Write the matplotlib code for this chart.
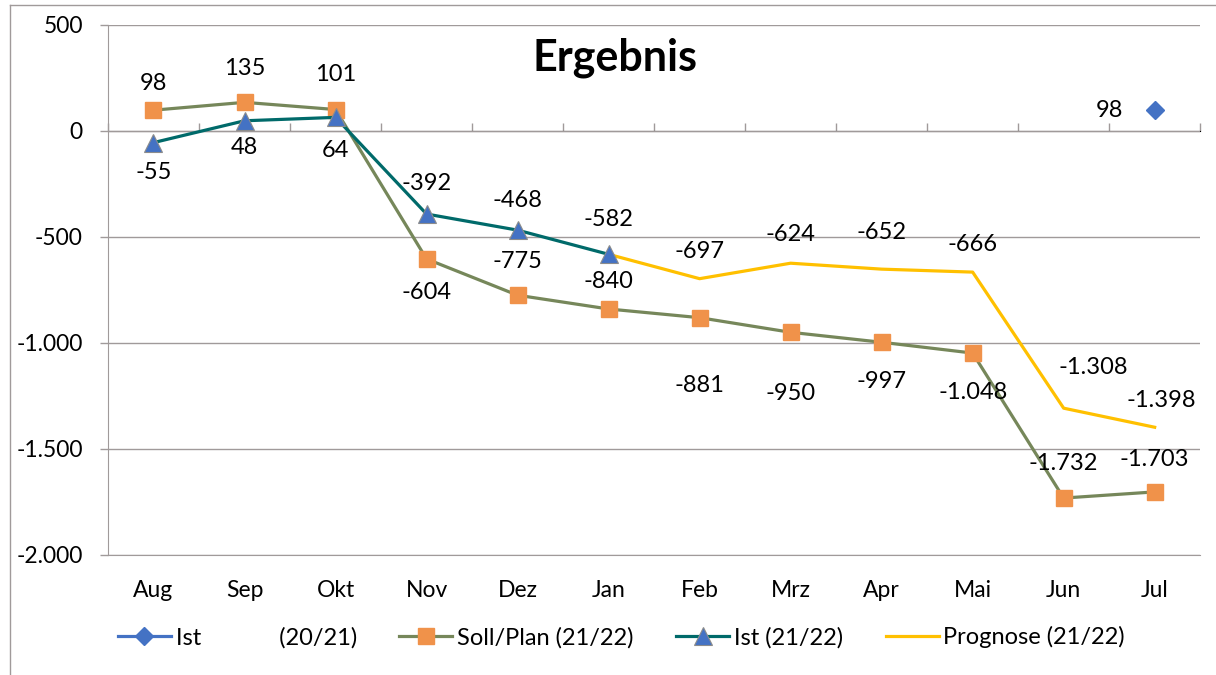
import matplotlib.pyplot as plt
import numpy as np
from matplotlib.lines import Line2D
from matplotlib.ticker import FuncFormatter

plt.rcParams['font.family'] = ['Lato', 'DejaVu Sans']

# Daten
monate = ['Aug', 'Sep', 'Okt', 'Nov', 'Dez', 'Jan', 'Feb', 'Mrz', 'Apr', 'Mai', 'Jun', 'Jul']
ist_2021 = [None] * 11 + [98]
soll_plan = [98, 135, 101, -604, -775, -840, -881, -950, -997, -1048, -1732, -1703]
ist_2122 = [-55, 48, 64, -392, -468, -582]
prognose = [None] * 5 + [-582, -697, -624, -652, -666, -1308, -1398]

# Versatz der Datenbeschriftung in Pixel (dy > 0 = oben)
soll_dy = [27, 34, 35, -34, 34, 27, -68, -61, -39, -39, 35, 32]
ist_dy = [-30, -27, -33, 31, 30, 35]
prog_dy = [27, 29, 37, 28, 41, 27]
prog_dx = [0, 0, 0, 0, 30, 7]


def de_fmt(v, pos=None):
    return f"{v:,.0f}".replace(",", ".")


fig = plt.figure(figsize=(12.16, 6.75), dpi=100)
ax = fig.add_axes([0.0888, 0.178, 0.8982, 0.785])

x = np.arange(len(monate))
x_prog = [i for i, v in enumerate(prognose) if v is not None]
y_prog = [v for v in prognose if v is not None]

ax.plot(x, soll_plan, color='#76875a', lw=2.3, marker='s', ms=11.5,
        mfc='#f0924a', mec='#f0924a', zorder=3, label='Soll/Plan (21/22)')
ax.plot(x[:len(ist_2122)], ist_2122, color='#006a6a', lw=2.3, marker='^', ms=13,
        mfc='#4472c4', mec='#8c8c8c', mew=0.8, zorder=4, label='Ist (21/22)')
ax.plot(x_prog, y_prog, color='#ffc000', lw=2.3, zorder=2, label='Prognose (21/22)')
ax.plot([11], [ist_2021[11]], color='#4472c4', lw=2.3, marker='D', ms=9,
        mfc='#4472c4', mec='#4472c4', zorder=5, label='Ist' + ' ' * 13 + '(20/21)')

fs = 17
px = 0.72
for i, v in enumerate(soll_plan):
    ax.annotate(de_fmt(v), (i, v), xytext=(0, soll_dy[i] * px), textcoords='offset points',
                ha='center', va='center', fontsize=fs)
for i, v in enumerate(ist_2122):
    ax.annotate(de_fmt(v), (i, v), xytext=(0, ist_dy[i] * px), textcoords='offset points',
                ha='center', va='center', fontsize=fs)
for k, (i, v) in enumerate(zip(x_prog[1:], y_prog[1:])):
    ax.annotate(de_fmt(v), (i, v), xytext=(prog_dx[k] * px, prog_dy[k] * px),
                textcoords='offset points', ha='center', va='center', fontsize=fs)
ax.annotate(de_fmt(ist_2021[11]), (11, ist_2021[11]), xytext=(-45 * px, 0),
            textcoords='offset points', ha='center', va='center', fontsize=fs)

ax.text(0.464, 0.938, 'Ergebnis', transform=ax.transAxes, ha='center', va='center',
        fontsize=31, fontweight='bold')

ax.set_xlim(-0.5, 11.5)
ax.set_ylim(-2000, 500)
ax.set_yticks(np.arange(-2000, 501, 500))
ax.yaxis.set_major_formatter(FuncFormatter(de_fmt))
ax.set_xticks(x)
ax.set_xticklabels(monate)
ax.tick_params(axis='x', length=0, pad=18, labelsize=16.5)
ax.tick_params(axis='y', length=6, width=1, color='#a09a9a', pad=12, labelsize=16.5)
ax.grid(axis='y', color='#a09a9a', lw=1)
ax.set_axisbelow(True)
for s in ['top', 'right']:
    ax.spines[s].set_visible(False)
for s in ['left', 'bottom']:
    ax.spines[s].set_color('#a09a9a')

# Null-Achse mit Teilstrichen
sec = ax.secondary_xaxis(0.8)
sec.set_xticks(np.arange(-0.5, 12, 1))
sec.set_xticklabels([])
sec.tick_params(length=6, width=1, color='#a09a9a', direction='out')
sec.spines['bottom'].set_color('#a09a9a')

handles, labels = ax.get_legend_handles_labels()
order = [3, 0, 1, 2]
fig.legend([handles[i] for i in order], [labels[i] for i in order], loc='center',
           bbox_to_anchor=(0.511, 0.056), ncol=4, frameon=False, fontsize=17,
           handlelength=2.25, columnspacing=1.8, handletextpad=0.2)

# Rahmen
fig.add_artist(Line2D([0.008, 0.008], [0, 0.993], color='#a09a9a', lw=1, transform=fig.transFigure))
fig.add_artist(Line2D([0.008, 1], [0.993, 0.993], color='#a09a9a', lw=1, transform=fig.transFigure))

plt.savefig('out.png', dpi=100)
